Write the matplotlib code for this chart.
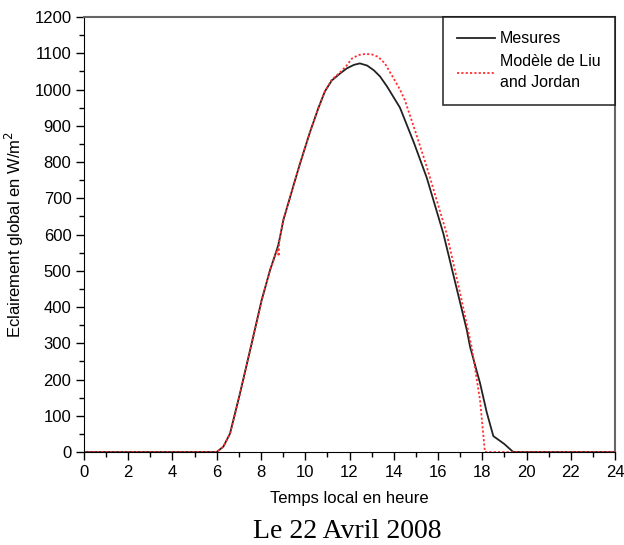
import numpy as np
import matplotlib.pyplot as plt
from matplotlib.ticker import MultipleLocator

# Mesures (heure locale, W/m2)
h_mes = [0, 6.0, 6.3, 6.6, 7.05, 7.58, 8.03, 8.41, 8.7, 8.78, 8.85, 9.01, 9.3,
         9.54, 9.76, 10.2, 10.6, 10.89, 11.2, 11.57, 11.87, 12.2, 12.47, 12.8,
         13.1, 13.38, 13.7, 13.98, 14.28, 14.9, 15.49, 16.24, 16.8, 17.3,
         17.45, 17.9, 18.2, 18.5, 19.0, 19.4, 24]
g_mes = [0, 0, 15, 51, 162, 300, 419, 502, 555, 571, 590, 640, 700,
         750, 795, 880, 950, 995, 1025, 1044, 1058, 1068, 1072, 1066,
         1053, 1036, 1008, 980, 950, 855, 757, 603, 462, 337,
         290, 190, 110, 44, 22, 0, 0]

# Modele de Liu and Jordan
h_mod = [0, 6.0, 6.3, 6.6, 7.05, 7.58, 8.03, 8.41, 8.75, 8.8, 8.82, 8.85, 9.01,
         9.3, 9.54, 9.76, 10.2, 10.6, 10.89, 11.2, 11.57, 11.87, 12.1, 12.4,
         12.7, 13.0, 13.3, 13.6, 14.0, 14.28, 14.5, 15.0, 15.49, 16.39, 17.0,
         17.52, 17.9, 18.12, 24]
g_mod = [0, 0, 15, 50, 160, 300, 419, 502, 560, 540, 578, 590, 640,
         700, 750, 795, 880, 950, 995, 1027, 1047, 1066, 1085, 1095,
         1098, 1097, 1090, 1072, 1030, 1000, 971, 880, 787, 603, 438,
         290, 143, 0, 0]

plt.rcParams['font.family'] = ['Liberation Sans', 'DejaVu Sans']

fig = plt.figure(figsize=(6.24, 5.45), dpi=100)
ax = fig.add_axes([0.1346, 0.1706, 0.8510, 0.7982])

ax.plot(h_mes, g_mes, color='#222222', lw=1.3, label='Mesures')
ax.plot(h_mod, g_mod, color='#ff3030', lw=1.3, linestyle=(0, (1.2, 1.2)),
        label='Modèle de Liu\nand Jordan')

ax.set_xlim(0, 24)
ax.set_ylim(0, 1200)
ax.xaxis.set_major_locator(MultipleLocator(2))
ax.xaxis.set_minor_locator(MultipleLocator(1))
ax.yaxis.set_major_locator(MultipleLocator(100))
ax.yaxis.set_minor_locator(MultipleLocator(50))
ax.tick_params(which='major', length=6, width=1, labelsize=12, pad=3)
ax.tick_params(which='minor', length=3.5, width=1)
for s in ['top', 'right']:
    ax.spines[s].set_color('#666666')
    ax.spines[s].set_linewidth(1.5)

ax.set_xlabel('Temps local en heure', fontsize=12, labelpad=8)
ax.set_ylabel('Eclairement global en W/m$^2$', fontsize=12, labelpad=6)

leg = ax.legend(loc='upper right', fontsize=11.5, frameon=True, fancybox=False,
                edgecolor='black', borderaxespad=0, handlelength=2.4,
                handletextpad=0.3, borderpad=0.9, labelspacing=0.5)
leg.get_frame().set_linewidth(1.2)
leg.get_texts()[1].set_linespacing(1.5)

fig.text(0.557, 0.012, 'Le 22 Avril 2008', fontsize=20, ha='center',
         va='baseline', family=['Liberation Serif', 'DejaVu Serif'])

fig.savefig('out.png', dpi=100)
